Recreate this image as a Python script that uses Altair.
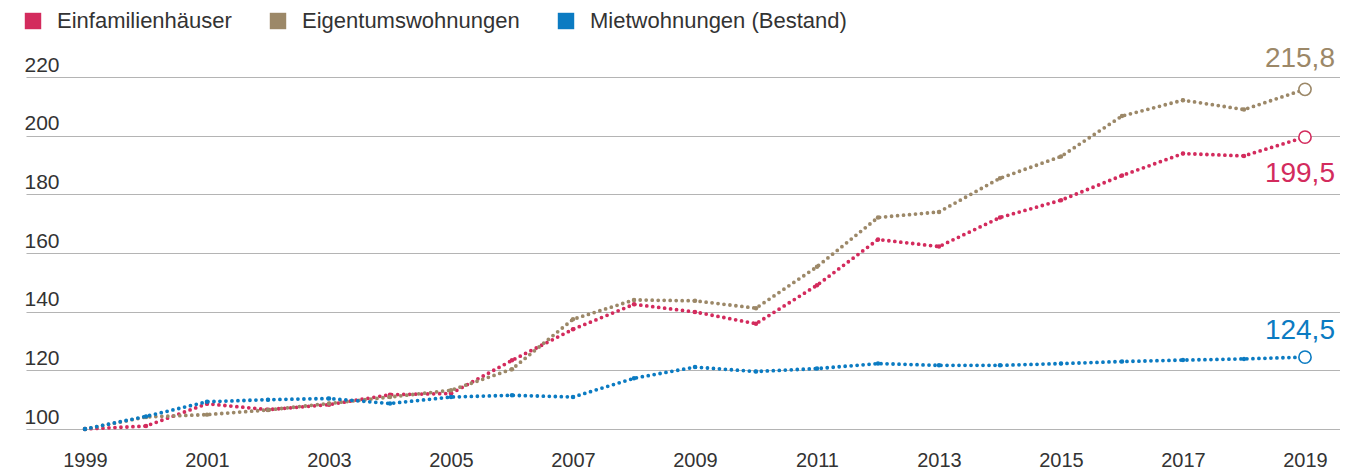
import altair as alt
import pandas as pd

years = list(range(1999, 2020))
series = ["Einfamilienhäuser", "Eigentumswohnungen", "Mietwohnungen (Bestand)"]
colors = ["#d32b5d", "#9c8868", "#0b7bc2"]

efh = [100.0, 101.0, 108.6, 106.6, 108.3, 111.7, 112.1, 123.4, 134.0, 142.5, 139.9,
       135.9, 149.0, 164.6, 162.2, 172.1, 178.0, 186.4, 193.9, 193.1, 199.5]
etw = [100.0, 104.1, 104.9, 106.5, 108.7, 110.9, 113.2, 120.4, 137.4, 144.0, 143.7,
       141.2, 155.3, 172.1, 174.0, 185.5, 192.9, 206.7, 212.1, 208.9, 215.8]
mw = [100.0, 104.3, 109.3, 110.0, 110.4, 108.7, 110.9, 111.5, 110.9, 117.3, 121.1,
      119.6, 120.6, 122.3, 121.7, 121.7, 122.3, 123.0, 123.5, 123.9, 124.5]

y_ticks = [100, 120, 140, 160, 180, 200, 220]
x_ticks = list(range(1999, 2020, 2))

rows = []
for name, vals in zip(series, [efh, etw, mw]):
    for yr, v in zip(years, vals):
        rows.append({"Jahr": yr, "Index": v, "Serie": name,
                     "Label": f"{v:.1f}".replace(".", ",")})
df = pd.DataFrame(rows)

FONT = "Liberation Sans"
TXT = "#333333"
cscale = alt.Scale(domain=series, range=colors)

color = alt.Color(
    "Serie:N",
    scale=cscale,
    legend=alt.Legend(
        title=None, orient="none", direction="horizontal",
        legendX=-4, legendY=-67,
        symbolType="square", symbolSize=270, symbolStrokeWidth=0,
        symbolOpacity=1,
        labelFontSize=22, labelFont=FONT, labelColor=TXT, labelLimit=0,
        labelOffset=13, columnPadding=35,
    ),
)

x = alt.X(
    "Jahr:Q",
    scale=alt.Scale(domain=[1998.033, 2019.574], nice=False, zero=False),
    axis=alt.Axis(values=x_ticks, format="d", title=None, grid=False, domain=False,
                  ticks=False, tickSize=0, labelFontSize=20, labelFont=FONT,
                  labelColor=TXT, labelPadding=21, labelFlush=False,
                  labelBaseline="top"),
)
y = alt.Y(
    "Index:Q",
    scale=alt.Scale(domain=[100, 220], nice=False, zero=False),
    axis=alt.Axis(values=y_ticks, format="d", title=None, domain=False, ticks=False,
                  tickSize=0, grid=True, gridColor="#b4b4b4", gridWidth=1.2,
                  labelAlign="left", labelBaseline="alphabetic", labelPadding=2,
                  labelOffset=-6, labelFontSize=21, labelFont=FONT,
                  labelColor=TXT, labelFlush=False, labelBound=False),
)

base = alt.Chart(df)

lines = base.mark_line(strokeWidth=3.8, strokeDash=[0, 6], strokeCap="round",
                       strokeJoin="round").encode(x=x, y=y, color=color)

verts = base.transform_filter(alt.datum.Jahr < 2019).mark_circle(
    size=20, opacity=1).encode(x=x, y=y, color=alt.Color("Serie:N", scale=cscale, legend=None))

ends = base.transform_filter(alt.datum.Jahr == 2019).mark_point(
    filled=False, fill="white", size=150, strokeWidth=1.6, opacity=1
).encode(x=x, y=y, color=alt.Color("Serie:N", scale=cscale, legend=None))

def end_label(name, dy):
    return base.transform_filter(
        (alt.datum.Jahr == 2019) & (alt.datum.Serie == name)
    ).mark_text(align="right", baseline="alphabetic", dx=30, dy=dy,
                fontSize=28, font=FONT).encode(
        x=x, y=y, text="Label:N",
        color=alt.Color("Serie:N", scale=cscale, legend=None))

labels = [end_label(series[0], 45), end_label(series[1], -22), end_label(series[2], -18)]

chart = alt.layer(lines, verts, ends, *labels).properties(
    width=1314, height=352,
    padding={"left": 18, "top": 69, "right": 0, "bottom": 40},
    autosize=alt.AutoSizeParams(type="none"),
).configure_view(stroke=None).configure_legend(symbolFillColor=None)

chart.save("out.html", embed_options={"renderer": "svg", "actions": False})
